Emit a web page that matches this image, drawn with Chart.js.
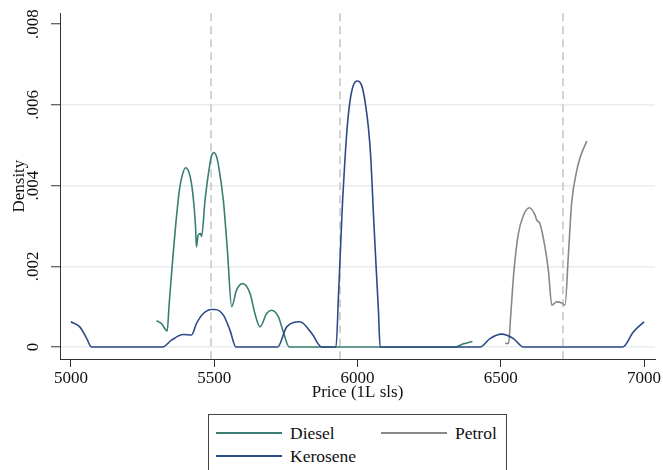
<!DOCTYPE html>
<html>
<head>
<meta charset="utf-8">
<script src="https://cdn.jsdelivr.net/npm/chart.js@4.4.1/dist/chart.umd.min.js"></script>
<style>
  body { margin: 0; background: #fff; }
  #wrap { position: relative; width: 663px; height: 470px; overflow: hidden; }
  #legend {
    position: absolute; left: 208px; top: 414px; width: 297px; height: 70px;
    border: 1px solid #444; background: #fff;
    font-family: "Liberation Serif", serif; font-size: 17.5px; color: #111;
  }
  .item { position: absolute; height: 22px; display: flex; align-items: center; }
  .swatch { width: 66px; height: 2px; margin-right: 8px; }
</style>
</head>
<body>
<div id="wrap">
  <canvas id="densityChart" width="663" height="470"></canvas>
  <div id="legend"></div>
</div>
<script>
// Kernel density of fuel prices, by fuel type
const xTicks = [5000, 5500, 6000, 6500, 7000];
const yTicks = [0, 0.002, 0.004, 0.006, 0.008];
const meanPrices = [5489, 5939, 6717];

const dieselX = [5299, 5316, 5336, 5343, 5355, 5366, 5380, 5390, 5400, 5412, 5421, 5429, 5435, 5438,
  5444, 5452, 5456, 5468, 5485, 5491, 5499, 5508, 5514, 5532, 5546, 5561, 5578, 5599, 5625, 5642,
  5660, 5683, 5700, 5724, 5741, 5762, 6340, 6370, 6401];
const dieselY = [0.00065, 0.00058, 0.00040, 0.00108, 0.00215, 0.00305, 0.00396, 0.00429, 0.00444,
  0.00433, 0.00404, 0.00355, 0.00297, 0.00248, 0.00277, 0.00281, 0.00274, 0.00363, 0.00454, 0.00474,
  0.00482, 0.00472, 0.00454, 0.00363, 0.00240, 0.00100, 0.00141, 0.00157, 0.00133, 0.00083, 0.00050,
  0.00083, 0.00091, 0.00075, 0.00038, 0, 0, 0.00008, 0.00014];

const keroseneX = [5000, 5031, 5055, 5072, 5320, 5351, 5392, 5421, 5438, 5462, 5491, 5503, 5532, 5555,
  5576, 5721, 5753, 5799, 5840, 5875, 5925, 5934, 5939, 5948, 5956, 5964, 5974, 5985, 5999, 6015,
  6026, 6038, 6047, 6055, 6065, 6073, 6079, 6428, 6462, 6503, 6544, 6579, 6925, 6963, 7000];
const keroseneY = [0.000625, 0.0005, 0.000215, 0, 0, 0.00017, 0.00031, 0.0003, 0.00058, 0.00083,
  0.00093, 0.00093, 0.00079, 0.00042, 0, 0, 0.0005, 0.000625, 0.00034, 0, 0, 0.00133, 0.00215,
  0.00363, 0.00462, 0.00544, 0.0061, 0.00647, 0.00659, 0.00647, 0.0061, 0.00544, 0.00462, 0.00338,
  0.00198, 0.00091, 0, 0, 0.00021, 0.00032, 0.00021, 0, 0, 0.00038, 0.000625];

const petrolX = [6515, 6527, 6535, 6546, 6561, 6579, 6600, 6620, 6625, 6637, 6654, 6666, 6678, 6695,
  6713, 6724, 6736, 6747, 6765, 6777, 6800];
const petrolY = [0.00009, 0.00009, 0.00083, 0.0019, 0.0028, 0.00326, 0.00345, 0.00326, 0.00315,
  0.00305, 0.00248, 0.0019, 0.00104, 0.00112, 0.00109, 0.00104, 0.00231, 0.00355, 0.00437, 0.0047,
  0.0051];

const serif = "'Liberation Serif', 'Times New Roman', serif";
const textColor = "#111";
const axisColor = "#333";

const series = [
  { label: "Kerosene", xs: keroseneX, ys: keroseneY, color: "#2c4a87" },
  { label: "Diesel", xs: dieselX, ys: dieselY, color: "#3a7d72" },
  { label: "Petrol", xs: petrolX, ys: petrolY, color: "#888888" },
];

function toPoints(xs, ys) {
  return xs.map((x, i) => ({ x: x, y: ys[i] }));
}

// Dashed vertical lines at the mean price of each fuel
const meanLinesPlugin = {
  id: "meanLines",
  beforeDatasetsDraw(chart) {
    const { ctx, chartArea, scales } = chart;
    ctx.save();
    ctx.strokeStyle = "#c4c4c4";
    ctx.lineWidth = 1.5;
    ctx.setLineDash([8, 5]);
    meanPrices.forEach((v) => {
      const px = scales.x.getPixelForValue(v);
      ctx.beginPath();
      ctx.moveTo(px, chartArea.top);
      ctx.lineTo(px, chartArea.bottom);
      ctx.stroke();
    });
    ctx.restore();
  },
};

new Chart(document.getElementById("densityChart"), {
  type: "line",
  data: {
    datasets: series.map((s) => ({
      label: s.label,
      data: toPoints(s.xs, s.ys),
      borderColor: s.color,
      backgroundColor: s.color,
      borderWidth: 1.6,
      pointRadius: 0,
      cubicInterpolationMode: "monotone",
      fill: false,
    })),
  },
  options: {
    responsive: false,
    animation: false,
    layout: { autoPadding: false, padding: { left: 0, top: 12, right: 8, bottom: 67 } },
    plugins: { legend: { display: false }, tooltip: { enabled: false } },
    scales: {
      x: {
        type: "linear",
        min: 4962,
        max: 7038,
        afterBuildTicks: (scale) => { scale.ticks = xTicks.map((v) => ({ value: v })); },
        afterFit: (scale) => { scale.height = 44; },
        grid: { drawOnChartArea: false, drawTicks: true, tickLength: 8, tickColor: axisColor },
        border: { color: axisColor, width: 1 },
        ticks: {
          autoSkip: false,
          maxRotation: 0,
          padding: 1,
          color: textColor,
          font: { family: serif, size: 17 },
          callback: (v) => String(v),
        },
        title: { display: true, text: "Price (1L sls)", color: textColor, padding: 0, font: { family: serif, size: 17 } },
      },
      y: {
        type: "linear",
        min: -0.000296,
        max: 0.00827,
        afterBuildTicks: (scale) => { scale.ticks = yTicks.map((v) => ({ value: v })); },
        afterFit: (scale) => { scale.width = 60; },
        grid: {
          color: (ctx) => (ctx.tick && ctx.tick.value === 0.008 ? "rgba(0,0,0,0)" : "#e6eef0"),
          lineWidth: 1.5,
          tickLength: 9,
          tickColor: axisColor,
          tickWidth: 1,
        },
        border: { color: axisColor, width: 1 },
        ticks: {
          autoSkip: false,
          minRotation: 90,
          maxRotation: 90,
          crossAlign: "center",
          padding: 3,
          color: textColor,
          font: { family: serif, size: 17 },
          callback: (v) => (v === 0 ? "0" : String(v).replace(/^0/, "")),
        },
        title: { display: true, text: "Density", color: textColor, padding: { top: 9, bottom: 0 }, font: { family: serif, size: 17 } },
      },
    },
  },
  plugins: [meanLinesPlugin],
});

// Legend laid out like the original: Diesel, Petrol / Kerosene
const legendItems = [
  { label: "Diesel", color: "#3a7d72", left: 7, top: 7 },
  { label: "Petrol", color: "#888888", left: 172, top: 7 },
  { label: "Kerosene", color: "#2c4a87", left: 7, top: 30 },
];
const legend = document.getElementById("legend");
legendItems.forEach((item) => {
  const div = document.createElement("div");
  div.className = "item";
  div.style.left = item.left + "px";
  div.style.top = item.top + "px";
  const sw = document.createElement("span");
  sw.className = "swatch";
  sw.style.background = item.color;
  div.appendChild(sw);
  div.appendChild(document.createTextNode(item.label));
  legend.appendChild(div);
});
</script>
</body>
</html>
